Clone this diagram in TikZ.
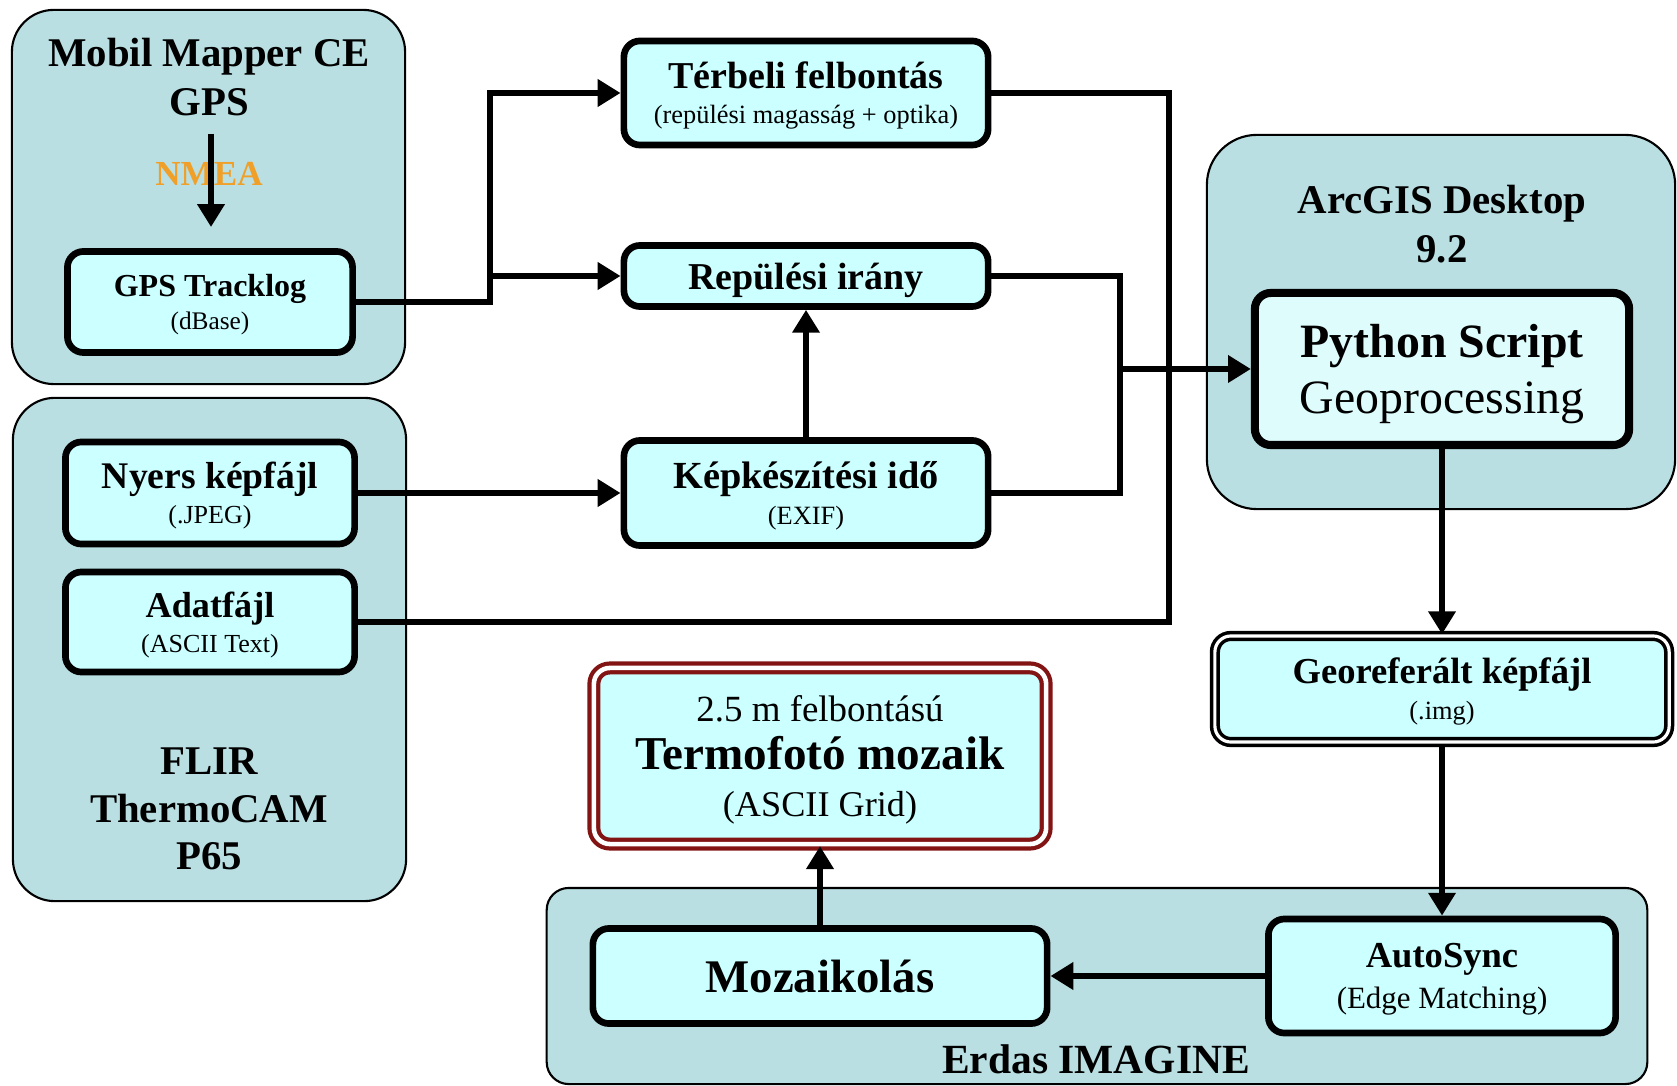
\documentclass[tikz,border=0pt]{standalone}
\usepackage{fontspec}
\setmainfont{Liberation Serif}
\usetikzlibrary{arrows.meta}

\definecolor{grpfill}{RGB}{185,223,226}
\definecolor{boxfill}{RGB}{204,255,255}
\definecolor{pyfill}{RGB}{222,252,252}
\definecolor{nmeaorange}{RGB}{240,160,40}
\definecolor{termored}{RGB}{130,20,20}

\tikzset{
  group/.style={draw=black, line width=0.6pt, fill=grpfill, rounded corners=0.42cm},
  proc/.style={draw=black, line width=1.9pt, fill=boxfill, rounded corners=0.16cm,
    align=center, inner sep=0pt, text depth=0pt},
  flow/.style={line width=1.7pt, -{Triangle[length=6.5pt,width=7.5pt]}},
  bus/.style={line width=1.7pt},
  grptitle/.style={align=center, font=\bfseries\fontsize{11.6}{13.8}\selectfont},
}

\begin{document}
\begin{tikzpicture}[x=0.01cm, y=-0.01cm]
  \useasboundingbox (0,0) rectangle (1677,1086);

  % software / device groups
  \node[group, minimum width=3.93cm, minimum height=3.74cm] (gpsgrp) at (208.5,197) {};
  \node[group, minimum width=3.93cm, minimum height=5.03cm] (flirgrp) at (209.5,649.5) {};
  \node[group, rounded corners=0.5cm, minimum width=4.68cm, minimum height=3.74cm] (arcgrp) at (1441,322) {};
  \node[group, rounded corners=0.22cm, minimum width=11cm, minimum height=1.96cm] (erdgrp) at (1097,986) {};

  \node[grptitle] (gpstitle) at (209,77) {Mobil Mapper CE\\GPS};
  \node[grptitle, font=\bfseries\fontsize{11.6}{13.5}\selectfont] (flirtitle) at (209,809) {FLIR\\ThermoCAM\\P65};
  \node[grptitle] (arctitle) at (1442,224) {ArcGIS Desktop\\9.2};
  \node[font=\bfseries\fontsize{11.8}{14}\selectfont] (erdtitle) at (1096,1059) {Erdas IMAGINE};

  %NMEA stream
  \node[font=\bfseries\fontsize{10}{12}\selectfont, text=nmeaorange] (nmea) at (209,174) {NMEA};
  \coordinate (nmeatop) at (211,134);
  \coordinate (nmeaend) at (211,227);
  \draw[flow] (nmeatop) -- (nmeaend);

  % input files
  \node[proc, minimum width=2.85cm, minimum height=1.01cm, font=\fontsize{7.2}{9.6}\selectfont] (track) at (210,302)
    {{\bfseries\fontsize{9.1}{9.6}\selectfont GPS Tracklog}\\(dBase)};
  \node[proc, minimum width=2.89cm, minimum height=1.02cm, font=\fontsize{7.4}{10}\selectfont] (nyers) at (210,493)
    {{\bfseries\fontsize{10.7}{10}\selectfont Nyers képfájl}\\(.JPEG)};
  \node[proc, minimum width=2.89cm, minimum height=1.0cm, font=\fontsize{7.4}{10}\selectfont] (adat) at (210,622)
    {{\bfseries\fontsize{10.3}{10}\selectfont Adatfájl}\\(ASCII Text)};

  % derived parameters
  \node[proc, minimum width=3.64cm, minimum height=1.04cm, font=\fontsize{7.5}{10}\selectfont] (terb) at (806,93)
    {{\bfseries\fontsize{10.8}{10}\selectfont Térbeli felbontás}\\(repülési magasság + optika)};
  \node[proc, minimum width=3.64cm, minimum height=0.61cm, font=\bfseries\fontsize{10.8}{12}\selectfont] (rep) at (806,276)
    {Repülési irány};
  \node[proc, minimum width=3.64cm, minimum height=1.05cm, font=\fontsize{7.5}{10.5}\selectfont] (kep) at (806,493)
    {{\bfseries\fontsize{10.9}{10.5}\selectfont Képkészítési idő}\\(EXIF)};

  % processing chain
  \node[proc, line width=2.3pt, fill=pyfill, minimum width=3.74cm, minimum height=1.52cm,
    font=\fontsize{13.6}{16}\selectfont] (python) at (1442,369)
    {{\bfseries Python Script}\\Geoprocessing};
  \node[proc, line width=1pt, double=white, double distance=0.9pt, minimum width=4.54cm, minimum height=1.06cm,
    font=\fontsize{7.5}{10.2}\selectfont] (georef) at (1442,689)
    {{\bfseries\fontsize{10.4}{10.2}\selectfont Georeferált képfájl}\\(.img)};
  \node[proc, minimum width=3.47cm, minimum height=1.14cm, font=\fontsize{8.8}{11.7}\selectfont] (auto) at (1442,976)
    {{\bfseries\fontsize{10.4}{11.7}\selectfont AutoSync}\\(Edge Matching)};
  \node[proc, minimum width=4.54cm, minimum height=0.95cm, font=\bfseries\fontsize{13.3}{16}\selectfont] (mozaik) at (820,976)
    {Mozaikolás};
  \node[proc, draw=termored, line width=1.2pt, double=white, double distance=1.3pt, minimum width=4.52cm,
    minimum height=1.76cm, font=\fontsize{10.5}{13.5}\selectfont] (termo) at (820,756)
    {2.5 m felbontású\\{\bfseries\fontsize{13.4}{13.5}\selectfont Termofotó mozaik}\\{\fontsize{10.3}{13.5}\selectfont (ASCII Grid)}};

  % connectors
  \coordinate (split) at (490,0);
  \draw[flow] (track.east) -| (split |- terb.west) -- (terb.west);
  \draw[flow] (split |- rep.west) -- (rep.west);
  \draw[flow] (nyers.east) -- (kep.west);
  \draw[flow] (kep.north) -- (rep.south);

  \coordinate (busA) at (1169,0);
  \draw[bus] (terb.east) -| (busA |- adat.east) -- (adat.east);
  \coordinate (busB) at (1120,0);
  \draw[bus] (rep.east) -| (busB |- kep.east) -- (kep.east);
  \draw[flow] (busB |- python.west) -- (python.west);

  \draw[flow] (python.south) -- (georef.north);
  \draw[flow] (georef.south) -- (auto.north);
  \draw[flow] (auto.west) -- (mozaik.east);
  \draw[flow] (mozaik.north) -- (termo.south);

\end{tikzpicture}
\end{document}
